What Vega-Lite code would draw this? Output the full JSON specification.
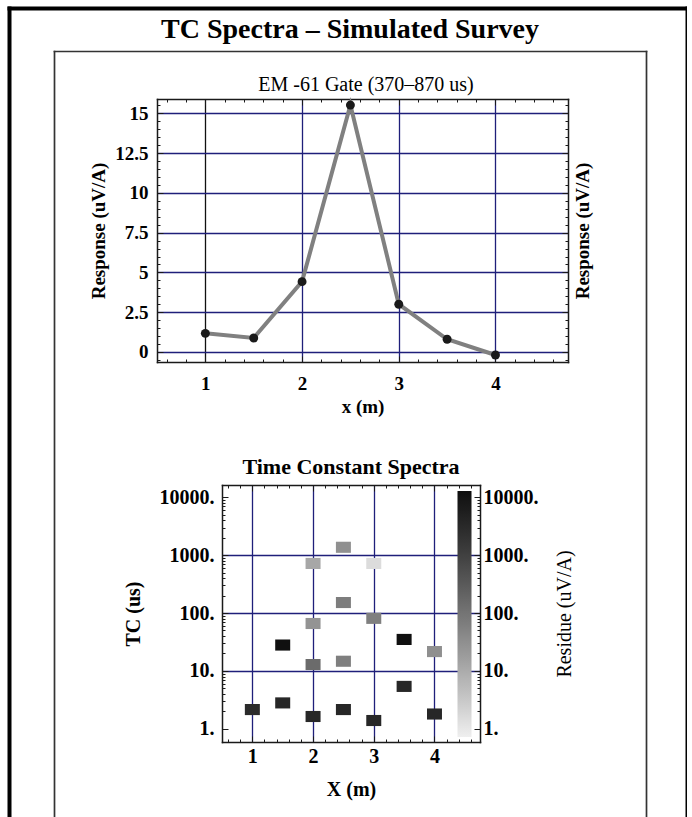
{
  "$schema": "https://vega.github.io/schema/vega-lite/v6.json",
  "background": "white",
  "padding": {"left": 6, "top": 8, "right": 0, "bottom": 0},
  "spacing": 0,
  "bounds": "flush",
  "datasets": {
    "gate": [
      {"x": 1, "response": 1.17},
      {"x": 1.5, "response": 0.88},
      {"x": 2, "response": 4.42},
      {"x": 2.5, "response": 15.52},
      {"x": 3, "response": 3.0},
      {"x": 3.5, "response": 0.8},
      {"x": 4, "response": -0.19}
    ],
    "spectra": [
      {"x": 1, "tc": 2.15, "residue": 2500},
      {"x": 1.5, "tc": 2.8, "residue": 3000},
      {"x": 1.5, "tc": 28, "residue": 9000},
      {"x": 2, "tc": 1.63, "residue": 3000},
      {"x": 2, "tc": 12.9, "residue": 150},
      {"x": 2, "tc": 66, "residue": 30},
      {"x": 2, "tc": 720, "residue": 14},
      {"x": 2.5, "tc": 2.15, "residue": 3000},
      {"x": 2.5, "tc": 14.7, "residue": 65},
      {"x": 2.5, "tc": 152, "residue": 70},
      {"x": 2.5, "tc": 1370, "residue": 33},
      {"x": 3, "tc": 1.39, "residue": 3000},
      {"x": 3, "tc": 81, "residue": 65},
      {"x": 3, "tc": 720, "residue": 2},
      {"x": 3.5, "tc": 5.4, "residue": 3000},
      {"x": 3.5, "tc": 35, "residue": 9000},
      {"x": 4, "tc": 1.8, "residue": 3000},
      {"x": 4, "tc": 21.6, "residue": 35}
    ]
  },
  "config": {
    "view": {"stroke": null},
    "font": "Liberation Serif",
    "axis": {"labelOverlap": false, "labelFlush": false}
  },
  "vconcat": [
    {
      "width": 678, "height": 43,
      "data": {"values": [{}]},
      "layer": [
        {
          "mark": {"type": "point", "opacity": 0},
          "encoding": {
            "x": {"datum": 0, "type": "quantitative", "scale": {"domain": [0, 1], "range": [0, 678]},
              "axis": {"orient": "top", "offset": 0, "domain": true, "domainColor": "black", "domainWidth": 4, "domainCap": "square", "ticks": false, "labels": false, "grid": false, "title": null}},
            "y": {"datum": 0, "type": "quantitative", "scale": {"domain": [0, 1], "range": [822, 0]},
              "axis": {"orient": "left", "offset": 0, "domain": true, "domainColor": "black", "domainWidth": 4, "domainCap": "square", "ticks": false, "labels": false, "grid": false, "title": null}}
          }
        },
        {
          "mark": {"type": "point", "opacity": 0},
          "encoding": {
            "y": {"datum": 0, "type": "quantitative", "scale": {"domain": [0, 1], "range": [822, 0]},
              "axis": {"orient": "right", "offset": 0, "domain": true, "domainColor": "black", "domainWidth": 4, "domainCap": "square", "ticks": false, "labels": false, "grid": false, "title": null}}
          }
        },
        {
          "mark": {"type": "point", "opacity": 0},
          "encoding": {
            "y": {"datum": 0, "type": "quantitative", "scale": {"domain": [0, 1], "range": [822, 43]},
              "axis": {"orient": "left", "offset": -45, "domain": true, "domainColor": "#333333", "domainWidth": 1.7, "domainCap": "square", "ticks": false, "labels": false, "grid": false, "title": null}}
          }
        },
        {
          "mark": {"type": "point", "opacity": 0},
          "encoding": {
            "y": {"datum": 0, "type": "quantitative", "scale": {"domain": [0, 1], "range": [822, 43]},
              "axis": {"orient": "right", "offset": -41, "domain": true, "domainColor": "#333333", "domainWidth": 1.7, "domainCap": "square", "ticks": false, "labels": false, "grid": false, "title": null}}
          }
        },
        {
          "mark": {"type": "point", "opacity": 0},
          "encoding": {
            "x": {"datum": 0, "type": "quantitative", "scale": {"domain": [0, 1], "range": [45, 637]},
              "axis": {"orient": "top", "offset": -43, "domain": true, "domainColor": "#333333", "domainWidth": 1.7, "domainCap": "square", "ticks": false, "labels": false, "grid": false, "title": null}}
          }
        },
        {
          "mark": {"type": "text", "text": "TC Spectra – Simulated Survey", "font": "Liberation Serif", "fontSize": 28, "fontWeight": "bold", "align": "center", "baseline": "middle", "color": "black", "dx": 2},
          "encoding": {
            "x": {"datum": 0.5, "type": "quantitative", "scale": {"domain": [0, 1], "range": [0, 678]}, "axis": null},
            "y": {"datum": 0.5, "type": "quantitative", "scale": {"domain": [0, 1], "range": [43, 0]}, "axis": null}
          }
        }
      ],
      "resolve": {"scale": {"x": "independent", "y": "independent"}, "axis": {"x": "independent", "y": "independent"}}
    },
    {
      "width": 678, "height": 48,
      "data": {"values": [{}]},
      "mark": {"type": "point", "opacity": 0}
    },
    {
      "width": 678, "height": 263,
      "title": {"text": "EM -61 Gate (370–870 us)", "font": "Liberation Serif", "fontSize": 20, "fontWeight": "normal", "color": "black", "offset": 2, "dx": 18},
      "data": {"name": "gate"},
      "layer": [
        {
          "mark": {"type": "line", "color": "#808080", "strokeWidth": 4},
          "encoding": {
            "x": {"field": "x", "type": "quantitative", "scale": {"domain": [0.5, 4.75], "range": [148, 559], "nice": false, "zero": false},
              "axis": {"orient": "top", "values": [0.6, 0.8, 1, 1.2, 1.4, 1.6, 1.8, 2, 2.2, 2.4, 2.6, 2.8, 3, 3.2, 3.4, 3.6, 3.8, 4, 4.2, 4.4, 4.6],
                "labels": false, "grid": false, "domain": true, "domainColor": "#1a1a1a", "domainWidth": 1.5, "domainCap": "square", "ticks": true, "tickColor": "#1a1a1a", "tickWidth": 1,
                "tickSize": {"condition": {"test": "datum.value % 1 === 0", "value": -6}, "value": -3}, "title": null}},
            "y": {"field": "response", "type": "quantitative", "scale": {"domain": [-0.63, 15.9], "nice": false, "zero": false},
              "axis": {"orient": "right", "offset": -119, "values": [-0.5, 0, 0.5, 1, 1.5, 2, 2.5, 3, 3.5, 4, 4.5, 5, 5.5, 6, 6.5, 7, 7.5, 8, 8.5, 9, 9.5, 10, 10.5, 11, 11.5, 12, 12.5, 13, 13.5, 14, 14.5, 15, 15.5],
                "labels": false, "grid": false, "domain": true, "domainColor": "#1a1a1a", "domainWidth": 1.5, "domainCap": "square", "ticks": true, "tickColor": "#1a1a1a", "tickWidth": 1,
                "tickSize": {"condition": {"test": "datum.value % 2.5 === 0", "value": -6}, "value": -3},
                "title": "Response (uV/A)", "titleFont": "Liberation Serif", "titleFontWeight": "bold", "titleFontSize": 19, "titleColor": "black",
                "titleAngle": 270, "titleBaseline": "top", "titlePadding": 5}}
          }
        },
        {
          "mark": {"type": "point", "filled": true, "color": "#1a1a1a", "size": 80, "opacity": 1},
          "encoding": {
            "x": {"field": "x", "type": "quantitative", "scale": {"domain": [0.5, 4.75], "range": [148, 559], "nice": false, "zero": false},
              "axis": {"orient": "bottom", "values": [1, 2, 3, 4], "format": "d", "ticks": false, "domain": true, "domainColor": "#1a1a1a", "domainWidth": 1.5, "domainCap": "square", "grid": true,
                "gridColor": {"condition": {"test": "datum.value === 1", "value": "#111111"}, "value": "#1f1f7a"}, "gridWidth": 1.3,
                "labelFont": "Liberation Serif", "labelFontWeight": "bold", "labelFontSize": 19, "labelColor": "black", "labelPadding": 12,
                "title": "x (m)", "titleFont": "Liberation Serif", "titleFontWeight": "bold", "titleFontSize": 19, "titleColor": "black", "titlePadding": 4}},
            "y": {"field": "response", "type": "quantitative", "scale": {"domain": [-0.63, 15.9], "nice": false, "zero": false},
              "axis": {"orient": "left", "offset": -148, "values": [0, 2.5, 5, 7.5, 10, 12.5, 15], "labelExpr": "datum.value + ''", "ticks": false, "domain": true, "domainColor": "#1a1a1a", "domainWidth": 1.5, "domainCap": "square", "grid": true,
                "gridColor": "#1f1f7a", "gridWidth": 1.3,
                "labelFont": "Liberation Serif", "labelFontWeight": "bold", "labelFontSize": 19, "labelColor": "black", "labelPadding": 9,
                "title": "Response (uV/A)", "titleFont": "Liberation Serif", "titleFontWeight": "bold", "titleFontSize": 19, "titleColor": "black", "titlePadding": 6}}
          }
        },
        {
          "mark": {"type": "point", "opacity": 0},
          "encoding": {
            "x": {"field": "x", "type": "quantitative", "scale": {"domain": [0.5, 4.75], "range": [148, 559], "nice": false, "zero": false},
              "axis": {"orient": "bottom", "values": [0.6, 0.8, 1, 1.2, 1.4, 1.6, 1.8, 2, 2.2, 2.4, 2.6, 2.8, 3, 3.2, 3.4, 3.6, 3.8, 4, 4.2, 4.4, 4.6],
                "labels": false, "grid": false, "domain": false, "ticks": true, "tickColor": "#1a1a1a", "tickWidth": 1,
                "tickSize": {"condition": {"test": "datum.value % 1 === 0", "value": -6}, "value": -3}, "title": null}},
            "y": {"field": "response", "type": "quantitative", "scale": {"domain": [-0.63, 15.9], "nice": false, "zero": false},
              "axis": {"orient": "left", "offset": -148, "values": [-0.5, 0, 0.5, 1, 1.5, 2, 2.5, 3, 3.5, 4, 4.5, 5, 5.5, 6, 6.5, 7, 7.5, 8, 8.5, 9, 9.5, 10, 10.5, 11, 11.5, 12, 12.5, 13, 13.5, 14, 14.5, 15, 15.5],
                "labels": false, "grid": false, "domain": false, "ticks": true, "tickColor": "#1a1a1a", "tickWidth": 1,
                "tickSize": {"condition": {"test": "datum.value % 2.5 === 0", "value": -6}, "value": -3}, "title": null}}
          }
        }
      ],
      "resolve": {"axis": {"x": "independent", "y": "independent"}}
    },
    {
      "width": 678, "height": 123,
      "data": {"values": [{}]},
      "mark": {"type": "point", "opacity": 0}
    },
    {
      "width": 678, "height": 257,
      "title": {"text": "Time Constant Spectra", "font": "Liberation Serif", "fontSize": 22, "fontWeight": "bold", "color": "black", "offset": 6, "dx": 3},
      "data": {"name": "spectra"},
      "layer": [
        {
          "mark": {"type": "point", "filled": true, "opacity": 1, "size": 225, "shape": "M-1,-0.74H1V0.74H-1Z", "strokeWidth": 0},
          "encoding": {
            "x": {"field": "x", "type": "quantitative", "scale": {"domain": [0.5, 4.75], "range": [213, 471], "nice": false, "zero": false},
              "axis": {"orient": "bottom", "values": [1, 2, 3, 4], "format": "d", "ticks": false, "domain": true, "domainColor": "#1a1a1a", "domainWidth": 1.5, "domainCap": "square", "grid": true,
                "gridColor": "#1f1f7a", "gridWidth": 1.3,
                "labelFont": "Liberation Serif", "labelFontWeight": "bold", "labelFontSize": 20, "labelColor": "black", "labelPadding": 4,
                "title": "X (m)", "titleFont": "Liberation Serif", "titleFontWeight": "bold", "titleFontSize": 20, "titleColor": "black", "titlePadding": 13}},
            "y": {"field": "tc", "type": "quantitative", "scale": {"type": "log", "domain": [0.591, 16330], "nice": false},
              "axis": {"orient": "left", "offset": -213, "values": [1, 10, 100, 1000, 10000], "labelExpr": "datum.value + '.'", "ticks": false, "domain": true, "domainColor": "#1a1a1a", "domainWidth": 1.5, "domainCap": "square", "grid": true,
                "gridColor": "#1f1f7a", "gridWidth": 1.3,
                "gridOpacity": {"condition": {"test": "datum.value === 1 || datum.value === 10000", "value": 0}, "value": 1},
                "labelFont": "Liberation Serif", "labelFontWeight": "bold", "labelFontSize": 20, "labelColor": "black", "labelPadding": 8,
                "title": "TC (us)", "titleFont": "Liberation Serif", "titleFontWeight": "bold", "titleFontSize": 20, "titleColor": "black", "titlePadding": 16}},
            "color": {"field": "residue", "type": "quantitative",
              "scale": {"type": "log", "domain": [1, 10000], "range": ["#efefef", "#0d0d0d"]},
              "legend": {"orient": "none", "legendX": 448.5, "legendY": 483, "direction": "vertical", "gradientLength": 246, "gradientThickness": 14,
                "gradientStrokeWidth": 0, "labelExpr": "''", "labelOpacity": 0, "title": null, "padding": 0, "offset": 0}}
          }
        },
        {
          "mark": {"type": "point", "opacity": 0},
          "encoding": {
            "x": {"field": "x", "type": "quantitative", "scale": {"domain": [0.5, 4.75], "range": [213, 471], "nice": false, "zero": false},
              "axis": {"orient": "top", "values": [0.6, 0.8, 1, 1.2, 1.4, 1.6, 1.8, 2, 2.2, 2.4, 2.6, 2.8, 3, 3.2, 3.4, 3.6, 3.8, 4, 4.2, 4.4, 4.6],
                "labels": false, "grid": false, "domain": true, "domainColor": "#1a1a1a", "domainWidth": 1.5, "domainCap": "square", "ticks": true, "tickColor": "#1a1a1a", "tickWidth": 1,
                "tickSize": {"condition": {"test": "datum.value % 1 === 0", "value": -6}, "value": -3}, "title": null}},
            "y": {"field": "tc", "type": "quantitative", "scale": {"type": "log", "domain": [0.591, 16330], "nice": false},
              "axis": {"orient": "right", "offset": -207, "values": [1, 10, 100, 1000, 10000], "labelExpr": "datum.value + '.'", "ticks": false, "domain": true, "domainColor": "#1a1a1a", "domainWidth": 1.5, "domainCap": "square", "grid": false,
                "labelFont": "Liberation Serif", "labelFontWeight": "bold", "labelFontSize": 20, "labelColor": "black", "labelPadding": 3,
                "title": "Residue (uV/A)", "titleFont": "Liberation Serif", "titleFontWeight": "normal", "titleFontSize": 20, "titleColor": "black",
                "titleAngle": 270, "titleBaseline": "top", "titlePadding": 16}}
          }
        },
        {
          "mark": {"type": "point", "opacity": 0},
          "encoding": {
            "x": {"field": "x", "type": "quantitative", "scale": {"domain": [0.5, 4.75], "range": [213, 471], "nice": false, "zero": false},
              "axis": {"orient": "bottom", "values": [0.6, 0.8, 1, 1.2, 1.4, 1.6, 1.8, 2, 2.2, 2.4, 2.6, 2.8, 3, 3.2, 3.4, 3.6, 3.8, 4, 4.2, 4.4, 4.6],
                "labels": false, "grid": false, "domain": false, "ticks": true, "tickColor": "#1a1a1a", "tickWidth": 1,
                "tickSize": {"condition": {"test": "datum.value % 1 === 0", "value": -6}, "value": -3}, "title": null}},
            "y": {"field": "tc", "type": "quantitative", "scale": {"type": "log", "domain": [0.591, 16330], "nice": false},
              "axis": {"orient": "left", "offset": -213, "values": [1, 2, 3, 4, 5, 6, 7, 8, 9, 10, 20, 30, 40, 50, 60, 70, 80, 90, 100, 200, 300, 400, 500, 600, 700, 800, 900, 1000, 2000, 3000, 4000, 5000, 6000, 7000, 8000, 9000, 10000],
                "labels": false, "grid": false, "domain": false, "ticks": true, "tickColor": "#1a1a1a", "tickWidth": 1,
                "tickSize": {"condition": {"test": "indexof([1, 10, 100, 1000, 10000], datum.value) >= 0", "value": -6}, "value": -3}, "title": null}}
          }
        },
        {
          "mark": {"type": "point", "opacity": 0},
          "encoding": {
            "y": {"field": "tc", "type": "quantitative", "scale": {"type": "log", "domain": [0.591, 16330], "nice": false},
              "axis": {"orient": "right", "offset": -207, "values": [1, 2, 3, 4, 5, 6, 7, 8, 9, 10, 20, 30, 40, 50, 60, 70, 80, 90, 100, 200, 300, 400, 500, 600, 700, 800, 900, 1000, 2000, 3000, 4000, 5000, 6000, 7000, 8000, 9000, 10000],
                "labels": false, "grid": false, "domain": false, "ticks": true, "tickColor": "#1a1a1a", "tickWidth": 1,
                "tickSize": {"condition": {"test": "indexof([1, 10, 100, 1000, 10000], datum.value) >= 0", "value": -6}, "value": -3}, "title": null}}
          }
        }
      ],
      "resolve": {"axis": {"x": "independent", "y": "independent"}}
    }
  ]
}
